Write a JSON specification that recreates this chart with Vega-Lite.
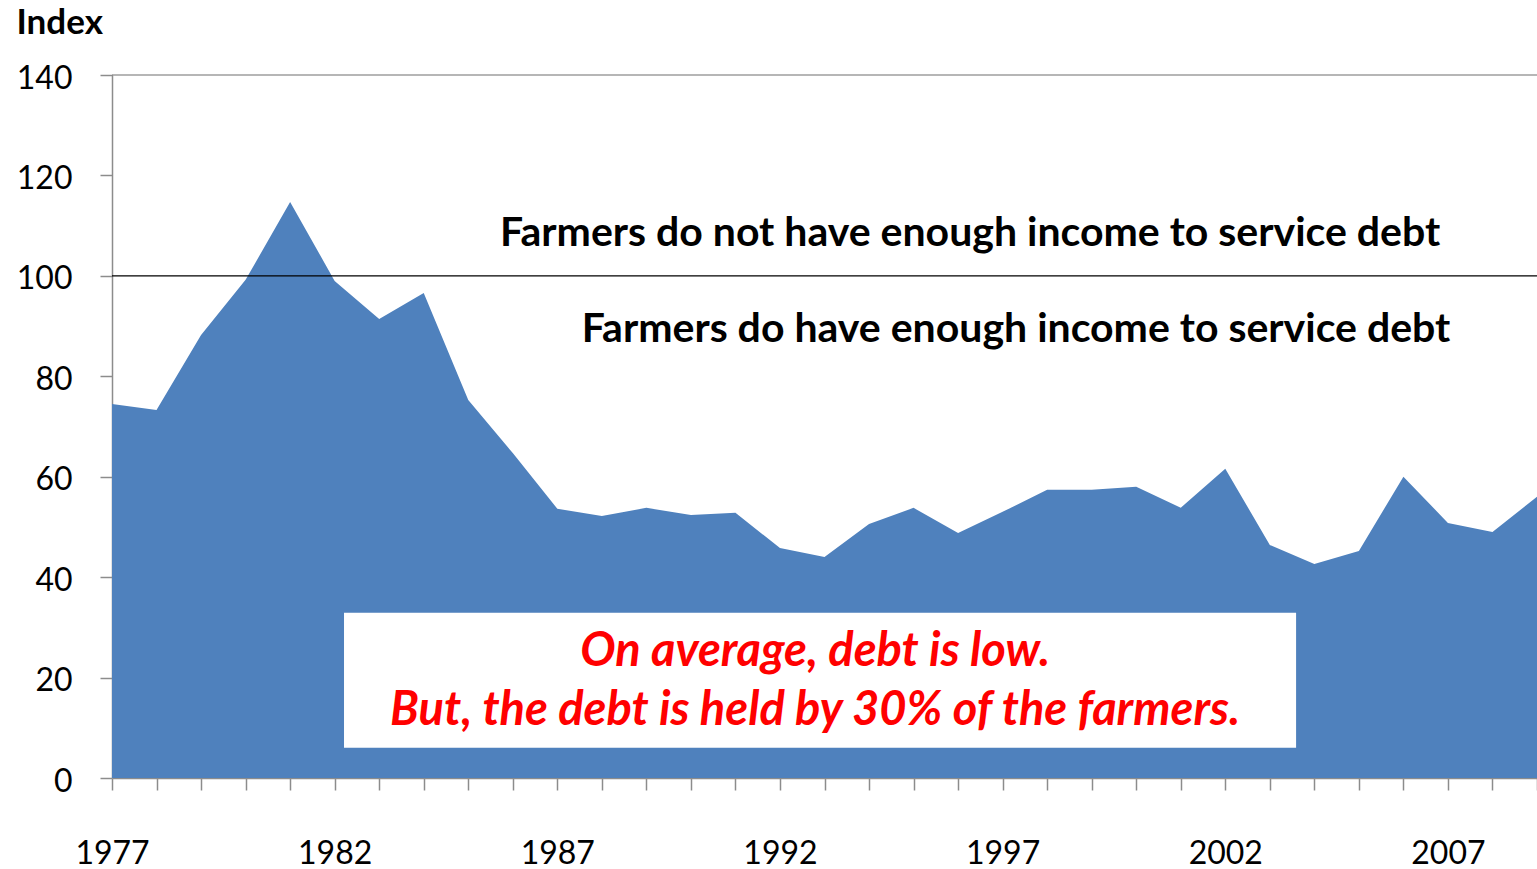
{
  "$schema": "https://vega.github.io/schema/vega-lite/v6.json",
  "width": 1425,
  "height": 703,
  "autosize": "none",
  "padding": {"left": 112, "top": 75, "right": 0, "bottom": 91},
  "background": "white",
  "config": {"view": {"stroke": null}, "font": "Lato"},
  "datasets": {
    "series": [
      {"year": 1977, "index": 74.5}, {"year": 1978, "index": 73.3}, {"year": 1979, "index": 88.2},
      {"year": 1980, "index": 99.2}, {"year": 1981, "index": 114.7}, {"year": 1982, "index": 99.0},
      {"year": 1983, "index": 91.4}, {"year": 1984, "index": 96.6}, {"year": 1985, "index": 75.3},
      {"year": 1986, "index": 64.7}, {"year": 1987, "index": 53.6}, {"year": 1988, "index": 52.2},
      {"year": 1989, "index": 53.8}, {"year": 1990, "index": 52.4}, {"year": 1991, "index": 52.8},
      {"year": 1992, "index": 45.8}, {"year": 1993, "index": 44.0}, {"year": 1994, "index": 50.6},
      {"year": 1995, "index": 53.8}, {"year": 1996, "index": 48.8}, {"year": 1997, "index": 53.0},
      {"year": 1998, "index": 57.4}, {"year": 1999, "index": 57.4}, {"year": 2000, "index": 58.0},
      {"year": 2001, "index": 53.8}, {"year": 2002, "index": 61.6}, {"year": 2003, "index": 46.4},
      {"year": 2004, "index": 42.6}, {"year": 2005, "index": 45.2}, {"year": 2006, "index": 60.0},
      {"year": 2007, "index": 50.8}, {"year": 2008, "index": 49.0}, {"year": 2009, "index": 56.0}
    ],
    "lines": [
      {"level": 140, "kind": "top"},
      {"level": 100, "kind": "threshold"}
    ],
    "box": [
      {"x1": 1982.21, "x2": 2003.59, "y1": 6.0, "y2": 32.9}
    ],
    "labels": [
      {"year": 1996.27, "value": 108.3, "label": "Farmers do not have enough income to service debt"},
      {"year": 1997.3, "value": 89.2, "label": "Farmers do have enough income to service debt"}
    ],
    "notes": [
      {"year": 1992.79, "value": 25.0, "label": "On average, debt is low."},
      {"year": 1992.79, "value": 13.4, "label": "But, the debt is held by 30% of the farmers."}
    ]
  },
  "layer": [
    {
      "data": {"name": "series"},
      "mark": {"type": "area", "color": "#4F81BD", "clip": true},
      "encoding": {
        "x": {
          "field": "year", "type": "quantitative",
          "scale": {"domain": [1977, 2009], "nice": false, "zero": false},
          "axis": {
            "title": null, "grid": false,
            "values": [1977,1978,1979,1980,1981,1982,1983,1984,1985,1986,1987,1988,1989,1990,1991,1992,1993,1994,1995,1996,1997,1998,1999,2000,2001,2002,2003,2004,2005,2006,2007,2008,2009],
            "labelExpr": "(datum.value - 1977) % 5 == 0 ? format(datum.value, 'd') : ''",
            "labelFontSize": 32, "labelColor": "#000000", "labelFont": "Lato",
            "labelPadding": 48, "labelOverlap": false, "labelFlush": false,
            "tickSize": 12, "tickColor": "#8c8c8c", "tickWidth": 1.5,
            "domainColor": "#8c8c8c", "domainWidth": 1.5
          }
        },
        "y": {
          "field": "index", "type": "quantitative",
          "scale": {"domain": [0, 140], "nice": false},
          "axis": {
            "values": [0, 20, 40, 60, 80, 100, 120, 140],
            "grid": false,
            "title": "Index", "titleAngle": 0, "titleAlign": "left", "titleBaseline": "alphabetic",
            "titleX": -96, "titleY": -42, "titleFontSize": 35, "titleFontWeight": "bold", "titleColor": "#000000", "titleFont": "Lato",
            "labelFontSize": 32, "labelColor": "#000000", "labelFont": "Lato", "labelPadding": 28,
            "labelOffset": 3,
            "tickSize": 12, "tickColor": "#8c8c8c", "tickWidth": 1.5,
            "domainColor": "#8c8c8c", "domainWidth": 1.5
          }
        }
      }
    },
    {
      "data": {"name": "lines"},
      "mark": {"type": "rule"},
      "encoding": {
        "y": {"field": "level", "type": "quantitative"},
        "color": {"field": "kind", "type": "nominal", "scale": {"domain": ["top", "threshold"], "range": ["#6e6e6e", "#000000"]}, "legend": null},
        "strokeWidth": {"value": 1.2}
      }
    },
    {
      "data": {"name": "box"},
      "mark": {"type": "rect", "color": "#ffffff"},
      "encoding": {
        "x": {"field": "x1", "type": "quantitative"},
        "x2": {"field": "x2"},
        "y": {"field": "y1", "type": "quantitative"},
        "y2": {"field": "y2"}
      }
    },
    {
      "data": {"name": "labels"},
      "mark": {"type": "text", "font": "Lato", "fontSize": 41, "fontWeight": "bold", "color": "#000000", "align": "center", "baseline": "middle"},
      "encoding": {
        "x": {"field": "year", "type": "quantitative"},
        "y": {"field": "value", "type": "quantitative"},
        "text": {"field": "label"}
      }
    },
    {
      "data": {"name": "notes"},
      "mark": {"type": "text", "font": "Lato", "fontSize": 47, "fontWeight": "bold", "fontStyle": "italic", "color": "#ff0000", "align": "center", "baseline": "middle"},
      "encoding": {
        "x": {"field": "year", "type": "quantitative"},
        "y": {"field": "value", "type": "quantitative"},
        "text": {"field": "label"}
      }
    }
  ]
}
